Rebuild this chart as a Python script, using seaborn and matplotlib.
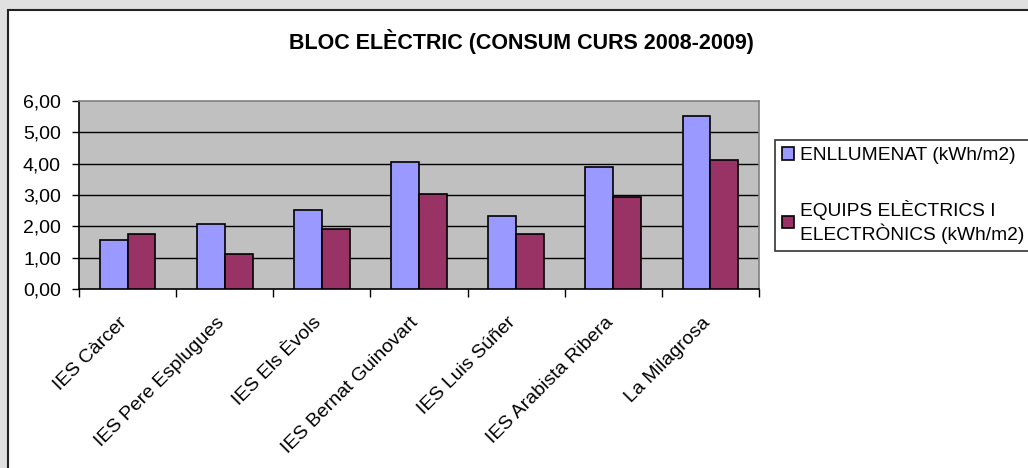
import matplotlib
matplotlib.use("Agg")
import matplotlib.pyplot as plt
import matplotlib.transforms as mtransforms
import seaborn as sns
import pandas as pd
from matplotlib.patches import Rectangle
from matplotlib.ticker import FuncFormatter, FixedLocator

categories = ["IES Càrcer", "IES Pere Esplugues", "IES Els Èvols", "IES Bernat Guinovart",
              "IES Luis Súñer", "IES Arabista Ribera", "La Milagrosa"]
enllumenat = [1.57, 2.08, 2.51, 4.04, 2.32, 3.88, 5.53]
equips = [1.76, 1.13, 1.90, 3.03, 1.76, 2.95, 4.13]
series_names = ["ENLLUMENAT (kWh/m2)", "EQUIPS ELÈCTRICS I\nELECTRÒNICS (kWh/m2)"]
colors = ["#9999FF", "#993366"]

df = pd.DataFrame({
    "centre": categories * 2,
    "valor": enllumenat + equips,
    "serie": [series_names[0]] * len(categories) + [series_names[1]] * len(categories),
})

sns.set_theme(style="white")
plt.rcParams["font.family"] = ["Liberation Sans", "DejaVu Sans"]
plt.rcParams["text.color"] = "black"
plt.rcParams["xtick.color"] = "black"
plt.rcParams["ytick.color"] = "black"

fig = plt.figure(figsize=(10.28, 4.68), dpi=100)
fig.patch.set_facecolor("#E0E0E0")
fig.patches.append(Rectangle((8 / 1028, -0.05), 1.1, 1 - 10 / 468 + 0.05,
                             transform=fig.transFigure, facecolor="white",
                             edgecolor="#222222", linewidth=1.5, zorder=-10))

ax = fig.add_axes([79 / 1028, 1 - 289 / 468, 680 / 1028, 188 / 468])
ax.set_zorder(2)
ax.set_facecolor("#C0C0C0")
sns.barplot(data=df, x="centre", y="valor", hue="serie", palette=colors,
            width=0.574, gap=0, edgecolor="black", linewidth=1.2,
            saturation=1, ax=ax, zorder=3)

ax.set_ylim(0, 6)
ax.set_xlim(-0.5, len(categories) - 0.5)
ax.set_yticks([0, 1, 2, 3, 4, 5, 6])
ax.yaxis.set_major_formatter(FuncFormatter(lambda v, p: f"{v:.2f}".replace(".", ",")))
for y in [1, 2, 3, 4, 5]:
    ax.axhline(y, color="black", linewidth=1, zorder=1)

ax.xaxis.set_minor_locator(FixedLocator([i - 0.5 for i in range(len(categories) + 1)]))
ax.tick_params(axis="x", which="major", length=0, pad=18, labelsize=14, labelcolor="black")
ax.tick_params(axis="x", which="minor", length=6, width=1, direction="out", color="black", bottom=True)
ax.tick_params(axis="y", which="major", length=5, width=1, direction="out", color="black",
               left=True, labelsize=14, pad=8, labelcolor="black")
shift = mtransforms.ScaledTranslation(-9 / 100, 0, fig.dpi_scale_trans)
for lab in ax.get_xticklabels():
    lab.set_rotation(45)
    lab.set_ha("right")
    lab.set_rotation_mode("anchor")
    lab.set_transform(lab.get_transform() + shift)
ax.set_xlabel("")
ax.set_ylabel("")

for s in ["left", "bottom"]:
    ax.spines[s].set_color("black")
    ax.spines[s].set_linewidth(1.2)
for s in ["top", "right"]:
    ax.spines[s].set_color("#808080")
    ax.spines[s].set_linewidth(1.2)

handles, labels = ax.get_legend_handles_labels()
ax.get_legend().remove()
leg = fig.legend(handles, labels, loc="upper left",
                 bbox_to_anchor=(775 / 1028, 1 - 140 / 468), borderaxespad=0,
                 frameon=True, fancybox=False, edgecolor="black",
                 fontsize=13.8, handlelength=0.65, handleheight=0.65,
                 handletextpad=0.3, labelspacing=1.9, borderpad=0.35)
leg.get_frame().set_linewidth(1.2)
for t in leg.get_texts():
    t.set_color("black")

fig.text(0.5 * (288 + 755) / 1028, 1 - 42 / 468, "BLOC ELÈCTRIC (CONSUM CURS 2008-2009)",
         ha="center", va="center", fontsize=15.5, fontweight="bold", color="black")

fig.savefig("out.png", dpi=100, facecolor=fig.get_facecolor())
